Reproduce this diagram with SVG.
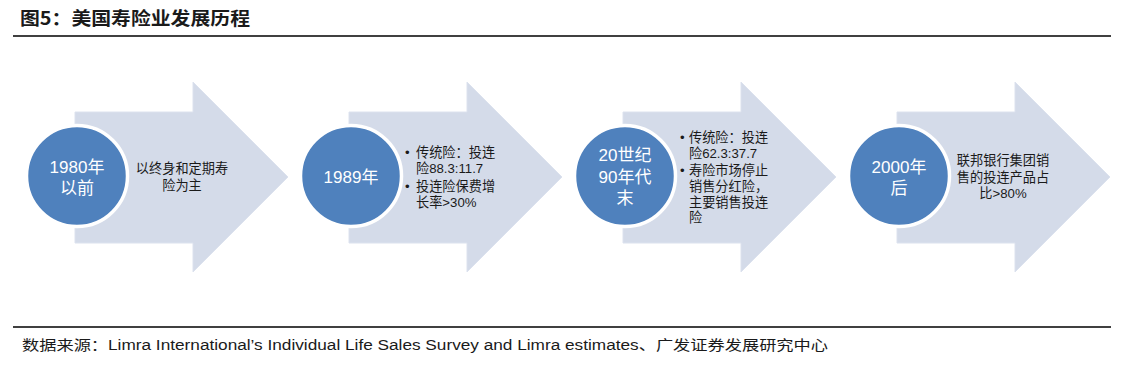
<svg xmlns="http://www.w3.org/2000/svg" width="1124" height="365" viewBox="0 0 1124 365">
<defs>
<style>
.arrow{fill:#d4dbe9;stroke:#dce2ee;stroke-width:1}
.circ{fill:#4f81bd;stroke:#ffffff;stroke-width:3.5}
.ct{font-family:"Liberation Sans","Noto Sans CJK SC",sans-serif;font-size:17px;fill:#ffffff;text-anchor:middle}
.bt{font-family:"Liberation Sans","Noto Sans CJK SC",sans-serif;font-size:13.2px;fill:#1a1a1a}
.mid{text-anchor:middle}
.rule{stroke:#000000;stroke-width:1.5}
</style>
<path id="arr" d="M0,36 H118 V6 L213,101 L118,196 V167 H0 Z"/>
</defs>
<rect width="1124" height="365" fill="#ffffff"/>
<text x="20" y="25" font-family="'Noto Sans CJK SC',sans-serif" font-weight="bold" font-size="18" fill="#1a1a1a" textLength="230" lengthAdjust="spacingAndGlyphs">图5：美国寿险业发展历程</text>
<line class="rule" x1="13" y1="36" x2="1111" y2="36"/>
<g id="n1">
<use href="#arr" class="arrow" x="75" y="76"/>
<circle class="circ" cx="77" cy="176" r="50.5"/>
<text class="ct" x="77" y="173">1980年</text>
<text class="ct" x="77" y="194">以前</text>
<text class="bt mid" x="182" y="173">以终身和定期寿</text>
<text class="bt mid" x="182" y="190">险为主</text>
</g>
<g id="n2">
<use href="#arr" class="arrow" x="349" y="76"/>
<circle class="circ" cx="351" cy="176" r="50.5"/>
<text class="ct" x="351" y="183">1989年</text>
<text class="bt" x="405" y="157">•</text>
<text class="bt" x="416" y="157">传统险：投连</text>
<text class="bt" x="416" y="173">险88.3:11.7</text>
<text class="bt" x="405" y="191">•</text>
<text class="bt" x="416" y="191">投连险保费增</text>
<text class="bt" x="416" y="207">长率&gt;30%</text>
</g>
<g id="n3">
<use href="#arr" class="arrow" x="623" y="76"/>
<circle class="circ" cx="625" cy="176" r="50.5"/>
<text class="ct" x="625" y="161">20世纪</text>
<text class="ct" x="625" y="183">90年代</text>
<text class="ct" x="625" y="204">末</text>
<text class="bt" x="680" y="142">•</text>
<text class="bt" x="689" y="142">传统险：投连</text>
<text class="bt" x="689" y="158">险62.3:37.7</text>
<text class="bt" x="680" y="175">•</text>
<text class="bt" x="689" y="175">寿险市场停止</text>
<text class="bt" x="689" y="191">销售分红险，</text>
<text class="bt" x="689" y="207">主要销售投连</text>
<text class="bt" x="689" y="222">险</text>
</g>
<g id="n4">
<use href="#arr" class="arrow" x="897" y="76"/>
<circle class="circ" cx="899" cy="176" r="50.5"/>
<text class="ct" x="899" y="173">2000年</text>
<text class="ct" x="899" y="194">后</text>
<text class="bt mid" x="1003" y="165">联邦银行集团销</text>
<text class="bt mid" x="1003" y="182">售的投连产品占</text>
<text class="bt mid" x="1003" y="198">比&gt;80%</text>
</g>
<g id="connectors"/>
<line class="rule" x1="13" y1="327" x2="1111" y2="327"/>
<text x="22" y="350" font-family="'Liberation Sans','Noto Sans CJK SC',sans-serif" font-size="14" fill="#1a1a1a" textLength="806" lengthAdjust="spacingAndGlyphs">数据来源：Limra International’s Individual Life Sales Survey and Limra estimates、广发证券发展研究中心</text>
</svg>
